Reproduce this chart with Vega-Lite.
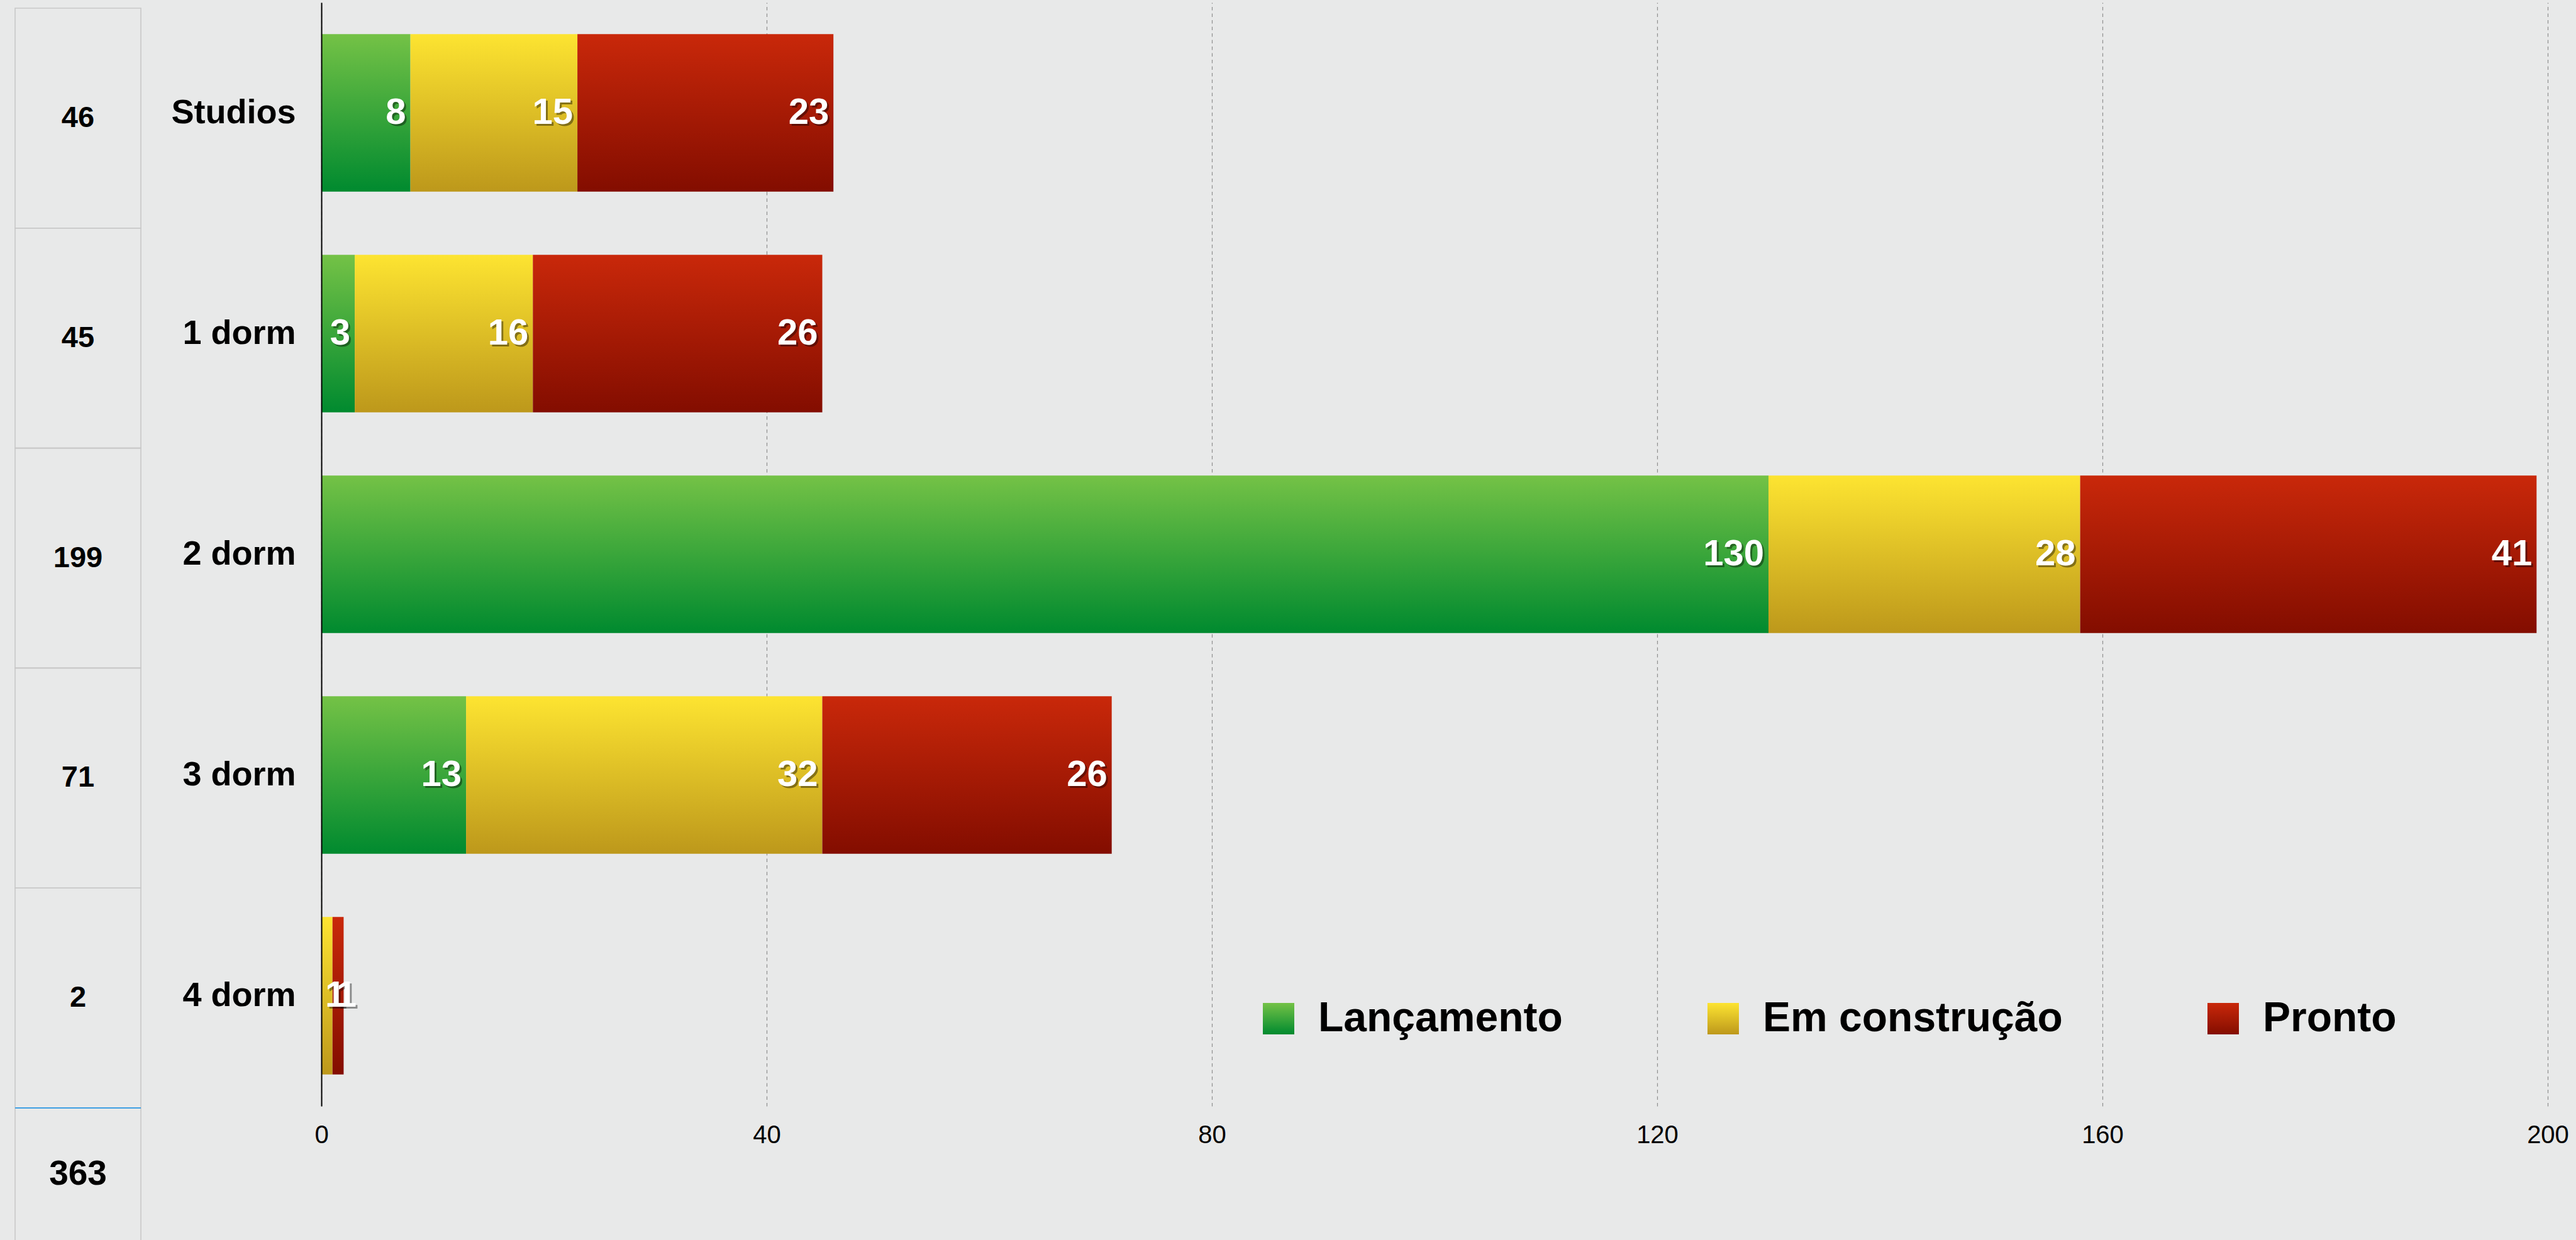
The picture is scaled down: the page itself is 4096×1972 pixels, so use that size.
{
  "$schema": "https://vega.github.io/schema/vega-lite/v6.json",
  "background": "#e8e9e9",
  "padding": {"left": 23, "top": 4, "right": 12, "bottom": 0},
  "config": {
    "font": "Liberation Sans",
    "view": {"stroke": null},
    "concat": {"spacing": 0}
  },
  "datasets": {
    "units": [
      {"category": "Studios", "status": "Lançamento", "value": 8},
      {"category": "Studios", "status": "Em construção", "value": 15},
      {"category": "Studios", "status": "Pronto", "value": 23},
      {"category": "1 dorm", "status": "Lançamento", "value": 3},
      {"category": "1 dorm", "status": "Em construção", "value": 16},
      {"category": "1 dorm", "status": "Pronto", "value": 26},
      {"category": "2 dorm", "status": "Lançamento", "value": 130},
      {"category": "2 dorm", "status": "Em construção", "value": 28},
      {"category": "2 dorm", "status": "Pronto", "value": 41},
      {"category": "3 dorm", "status": "Lançamento", "value": 13},
      {"category": "3 dorm", "status": "Em construção", "value": 32},
      {"category": "3 dorm", "status": "Pronto", "value": 26},
      {"category": "4 dorm", "status": "Lançamento", "value": 0},
      {"category": "4 dorm", "status": "Em construção", "value": 1},
      {"category": "4 dorm", "status": "Pronto", "value": 1}
    ]
  },
  "bounds": "flush",
  "spacing": 487,
  "resolve": {"scale": {"color": "independent"}, "legend": {"color": "independent"}},
  "hconcat": [
    {
      "bounds": "flush",
      "spacing": 0,
      "vconcat": [
        {
          "width": 200,
          "height": 1758,
          "data": {"name": "units"},
          "transform": [
            {"aggregate": [{"op": "sum", "field": "value", "as": "total"}], "groupby": ["category"]}
          ],
          "encoding": {
            "y": {
              "field": "category",
              "type": "nominal",
              "sort": ["Studios", "1 dorm", "2 dorm", "3 dorm", "4 dorm"],
              "scale": {"paddingInner": 0, "paddingOuter": 0, "range": [9, 1758]},
              "axis": null
            }
          },
          "layer": [
            {
              "mark": {"type": "rect", "fill": "transparent", "stroke": "#c8c8c8", "strokeWidth": 1.6}
            },
            {
              "mark": {"type": "text", "font": "Liberation Sans", "fontWeight": "bold", "fontSize": 47, "color": "black", "baseline": "middle", "align": "center"},
              "encoding": {"text": {"field": "total", "type": "quantitative"}}
            }
          ]
        },
        {
          "width": 200,
          "height": 210,
          "data": {"name": "units"},
          "transform": [
            {"aggregate": [{"op": "sum", "field": "value", "as": "total"}]}
          ],
          "layer": [
            {
              "mark": {"type": "rule", "stroke": "#c8c8c8", "strokeWidth": 1.6},
              "encoding": {"x": {"datum": 0, "type": "quantitative", "scale": {"domain": [0, 1], "nice": false, "zero": false}, "axis": null}}
            },
            {
              "mark": {"type": "rule", "stroke": "#c8c8c8", "strokeWidth": 1.6},
              "encoding": {"x": {"datum": 1, "type": "quantitative"}}
            },
            {
              "mark": {"type": "rule", "stroke": "#3f9fe3", "strokeWidth": 1.8},
              "encoding": {"y": {"datum": 1, "type": "quantitative", "scale": {"domain": [0, 1], "nice": false}, "axis": null}}
            },
            {
              "mark": {"type": "text", "font": "Liberation Sans", "fontWeight": "bold", "fontSize": 55, "color": "black", "baseline": "middle", "align": "center"},
              "encoding": {"text": {"field": "total", "type": "quantitative"}}
            }
          ]
        }
      ]
    },
    {
      "width": 3540,
      "height": 1755,
      "data": {"name": "units"},
      "transform": [
        {"stack": "value", "groupby": ["category"], "as": ["v0", "v1"]}
      ],
      "encoding": {
        "y": {
          "field": "category",
          "type": "nominal",
          "sort": ["Studios", "1 dorm", "2 dorm", "3 dorm", "4 dorm"],
          "scale": {"paddingInner": 0.286, "paddingOuter": 0.143},
          "axis": {
            "title": null,
            "domain": true,
            "domainColor": "#000000",
            "domainWidth": 2,
            "ticks": false,
            "tickSize": 0,
            "labelPadding": 41,
            "labelFont": "Liberation Sans",
            "labelFontWeight": "bold",
            "labelFontSize": 54,
            "labelColor": "#000000",
            "labelLimit": 1000,
            "grid": false,
            "zindex": 1
          }
        }
      },
      "layer": [
        {
          "mark": {"type": "bar"},
          "encoding": {
            "x": {
              "field": "v0",
              "type": "quantitative",
              "scale": {"domain": [0, 200], "nice": false},
              "axis": {
                "title": null,
                "values": [0, 40, 80, 120, 160, 200],
                "domain": false,
                "ticks": false,
                "tickSize": 0,
                "labelPadding": 26,
                "labelFlush": false,
                "labelFont": "Liberation Sans",
                "labelFontSize": 40,
                "labelColor": "#000000",
                "grid": true,
                "gridColor": "#8e8e8e",
                "gridWidth": 1.2,
                "gridDash": [5.5, 5],
                "zindex": 0
              }
            },
            "x2": {"field": "v1"},
            "color": {
              "field": "status",
              "type": "nominal",
              "scale": {
                "domain": ["Lançamento", "Em construção", "Pronto"],
                "range": [
                  {"expr": "{gradient: 'linear', x1: 0, y1: 0, x2: 0, y2: 1, stops: [{offset: 0, color: '#74c246'}, {offset: 1, color: '#008a2f'}]}"},
                  {"expr": "{gradient: 'linear', x1: 0, y1: 0, x2: 0, y2: 1, stops: [{offset: 0, color: '#fde431'}, {offset: 1, color: '#bd981b'}]}"},
                  {"expr": "{gradient: 'linear', x1: 0, y1: 0, x2: 0, y2: 1, stops: [{offset: 0, color: '#c9280a'}, {offset: 1, color: '#830d00'}]}"}
                ]
              },
              "legend": {
                "orient": "none",
                "legendX": 1489,
                "legendY": 1583,
                "direction": "horizontal",
                "title": null,
                "symbolType": "square",
                "symbolSize": 2500,
                "symbolStrokeWidth": 0,
                "symbolOpacity": 1,
                "labelFont": "Liberation Sans",
                "labelFontWeight": "bold",
                "labelFontSize": 66,
                "labelColor": "#000000",
                "labelOffset": 30,
                "labelLimit": 1000,
                "columnPadding": 222,
                "padding": 0
              }
            }
          }
        },
        {
          "transform": [{"filter": "datum.value >= 3"}],
          "mark": {"type": "text", "font": "Liberation Sans", "fontWeight": "bold", "fontSize": 58, "align": "right", "baseline": "middle", "dx": -4, "dy": 3, "fill": "#000000", "opacity": 0.4},
          "encoding": {"x": {"field": "v1", "type": "quantitative"}, "text": {"field": "value", "type": "quantitative"}}
        },
        {
          "transform": [{"filter": "datum.value > 0 && datum.value < 3"}],
          "mark": {"type": "text", "font": "Liberation Sans", "fontWeight": "bold", "fontSize": 58, "align": "left", "baseline": "middle", "dx": 9, "dy": 3, "fill": "#000000", "opacity": 0.4},
          "encoding": {"x": {"field": "v0", "type": "quantitative"}, "text": {"field": "value", "type": "quantitative"}}
        },
        {
          "transform": [{"filter": "datum.value >= 3"}],
          "mark": {"type": "text", "font": "Liberation Sans", "fontWeight": "bold", "fontSize": 58, "align": "right", "baseline": "middle", "dx": -7, "fill": "#ffffff"},
          "encoding": {"x": {"field": "v1", "type": "quantitative"}, "text": {"field": "value", "type": "quantitative"}}
        },
        {
          "transform": [{"filter": "datum.value > 0 && datum.value < 3"}],
          "mark": {"type": "text", "font": "Liberation Sans", "fontWeight": "bold", "fontSize": 58, "align": "left", "baseline": "middle", "dx": 6, "fill": "#ffffff"},
          "encoding": {"x": {"field": "v0", "type": "quantitative"}, "text": {"field": "value", "type": "quantitative"}}
        }
      ]
    }
  ]
}
